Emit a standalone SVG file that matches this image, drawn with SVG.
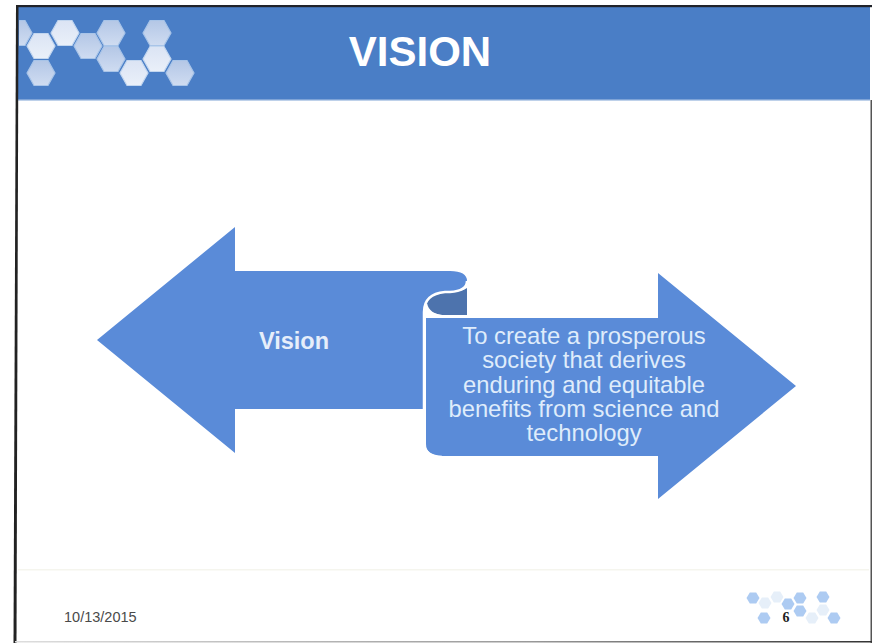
<svg xmlns="http://www.w3.org/2000/svg" width="872" height="643" viewBox="0 0 872 643">
<style>
.arrow{fill:#5a8bd8}
.hb{fill:url(#gb);stroke:#a8c4e8;stroke-width:1.2}
.hl{fill:url(#gl);stroke:#c2d6ef;stroke-width:1.2}
.hs{fill:#adcbf2}
.hp{fill:#e6eff9}
.t{font-family:"Liberation Sans",Arial,sans-serif;fill:#fff}
.b{font-size:23.8px;fill:#dfecfb;text-anchor:middle}
</style>
<defs>
<linearGradient id="gb" x1="0" y1="0" x2="0" y2="1"><stop offset="0" stop-color="#b4c7e6"/><stop offset="1" stop-color="#cfdcf1"/></linearGradient>
<linearGradient id="gl" x1="0" y1="0" x2="0" y2="1"><stop offset="0" stop-color="#dbe4f4"/><stop offset="1" stop-color="#eaf0f9"/></linearGradient>
<linearGradient id="gf" x1="0" y1="0" x2="1" y2="0"><stop offset="0" stop-color="#ddd"/><stop offset="0.6" stop-color="#999"/><stop offset="1" stop-color="#333"/></linearGradient>
<polygon id="hex" points="-14,0 -7,-12.5 7,-12.5 14,0 7,12.5 -7,12.5"/>
<polygon id="hexs" points="-6.5,0 -3.2,-5.6 3.2,-5.6 6.5,0 3.2,5.6 -3.2,5.6"/>
<clipPath id="c"><rect x="19" y="7" width="200" height="90"/></clipPath>
</defs>
<rect width="872" height="643" fill="#fff"/>
<g id="header">
<rect x="17" y="7" width="853" height="93" fill="#4a7ec6"/>
<rect x="17" y="99" width="853" height="1.5" fill="#7ea3d6"/>
<text class="t" x="420" y="66" font-size="42" font-weight="bold" text-anchor="middle">VISION</text>
</g>
<g id="hexagons">
<g clip-path="url(#c)">
<use href="#hex" class="hb" x="18" y="33"/>
<use href="#hex" class="hl" x="41" y="46"/>
<use href="#hex" class="hb" x="41" y="73"/>
<use href="#hex" class="hl" x="65" y="33"/>
<use href="#hex" class="hb" x="88" y="46"/>
<use href="#hex" class="hb" x="111" y="33"/>
<use href="#hex" class="hb" x="111" y="59"/>
<use href="#hex" class="hl" x="134" y="73"/>
<use href="#hex" class="hb" x="157" y="33"/>
<use href="#hex" class="hl" x="157" y="59"/>
<use href="#hex" class="hb" x="180" y="73"/>
</g>
</g>
<g id="frame">
<rect x="16" y="5" width="856" height="2.2" fill="#20232a"/>
<path d="M16 5H18.5L16.5 643H13.5Z" fill="#222"/>
<rect x="870.5" y="100" width="1.5" height="543" fill="#555"/>
<rect x="15" y="641" width="857" height="1.5" fill="url(#gf)"/>
</g>
<g id="vision-arrow">
<path class="arrow" d="M97 340L235 227V271H450Q467 271 467 281Q467 291 450 292H445Q424 294 424 312V409H235V453Z"/>
<text class="t" x="294" y="348.500" font-size="23.500" font-weight="bold" text-anchor="middle" style="fill:#e6eefa">Vision</text>
</g>
<g id="statement-arrow">
<path d="M467 288V315H442Q426 313 426 304Q428 294 448 292Q462 292 467 288Z" fill="#4d73ad"/>
<path class="arrow" d="M426 318H658V273L796 386L658 499V456H442Q426 456 426 444Z"/>
<path d="M467 281Q467 291 450 292H445Q424 294 424 312V444Q425 456 442 457" fill="none" stroke="#fff" stroke-width="2.5"/>
<path d="M426 304Q428 315 444 316.500H467" fill="none" stroke="#fff" stroke-width="2.500"/>
<g class="t b">
<text x="584" y="343.500">To create a prosperous</text>
<text x="584" y="368">society that derives</text>
<text x="584" y="393">enduring and equitable</text>
<text x="584" y="417">benefits from science and</text>
<text x="584" y="441">technology</text>
</g>
</g>
<g id="footer">
<rect x="18" y="569" width="851" height="1.5" fill="#f5f5ee"/>
<text x="64" y="622" font-family="'Liberation Sans',Arial,sans-serif" font-size="14.500" fill="#4a4a4a">10/13/2015</text>
<use href="#hexs" class="hs" x="753" y="598"/>
<use href="#hexs" class="hp" x="765" y="603"/>
<use href="#hexs" class="hp" x="777" y="597"/>
<use href="#hexs" class="hs" x="800" y="598"/>
<use href="#hexs" class="hs" x="823" y="597"/>
<use href="#hexs" class="hp" x="823" y="610"/>
<use href="#hexs" class="hs" x="788" y="604"/>
<use href="#hexs" class="hs" x="800" y="611"/>
<use href="#hexs" class="hs" x="764" y="618"/>
<use href="#hexs" class="hp" x="812" y="618"/>
<use href="#hexs" class="hs" x="834" y="618"/>
<text x="786" y="622" font-family="'Liberation Serif',serif" font-size="14" font-weight="bold" fill="#222" text-anchor="middle">6</text>
</g>
</svg>
